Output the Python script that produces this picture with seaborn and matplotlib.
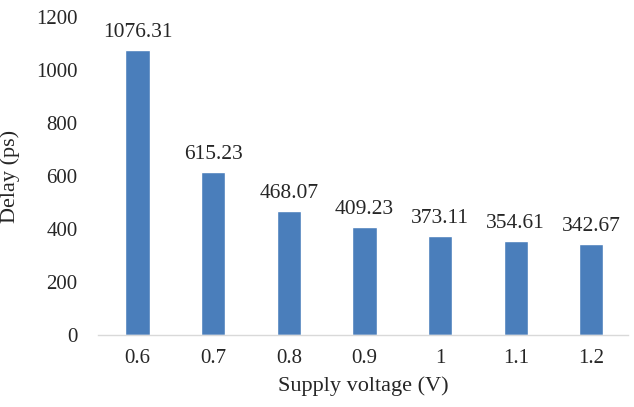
import matplotlib
matplotlib.use('Agg')
import matplotlib.pyplot as plt
import seaborn as sns
import pandas as pd

# data
voltages = ['0.6', '0.7', '0.8', '0.9', '1', '1.1', '1.2']
delays = [1076.31, 615.23, 468.07, 409.23, 373.11, 354.61, 342.67]

df = pd.DataFrame({'voltage': voltages, 'delay': delays})

sns.set_style('white')
plt.rcParams['font.family'] = ['Liberation Serif', 'DejaVu Serif']

fig = plt.figure(figsize=(6.34, 4.07), dpi=100)
ax = fig.add_axes([0.155, 0.177, 0.835, 0.781])

sns.barplot(data=df, x='voltage', y='delay', color='#4a7ebb', width=0.32,
            saturation=1, ax=ax)

for i, v in enumerate(delays):
    ax.text(i, v + 30, f'{v:.2f}', ha='center', va='bottom', fontsize=15.5)

ax.set_ylim(0, 1200)
ax.set_yticks(range(0, 1201, 200))
ax.set_xlim(-0.52, 6.48)
ax.tick_params(axis='both', labelsize=15, length=0)
ax.tick_params(axis='y', pad=15)
ax.tick_params(axis='x', pad=10)
ax.set_xlabel('Supply voltage (V)', fontsize=16, labelpad=6)
ax.set_ylabel('Delay (ps)', fontsize=16)
ax.yaxis.set_label_coords(-0.148, 0.5)

for s in ['top', 'right', 'left']:
    ax.spines[s].set_visible(False)
ax.spines['bottom'].set_color('#d9d9d9')
ax.spines['bottom'].set_linewidth(1)

fig.savefig('out.png', dpi=100)
